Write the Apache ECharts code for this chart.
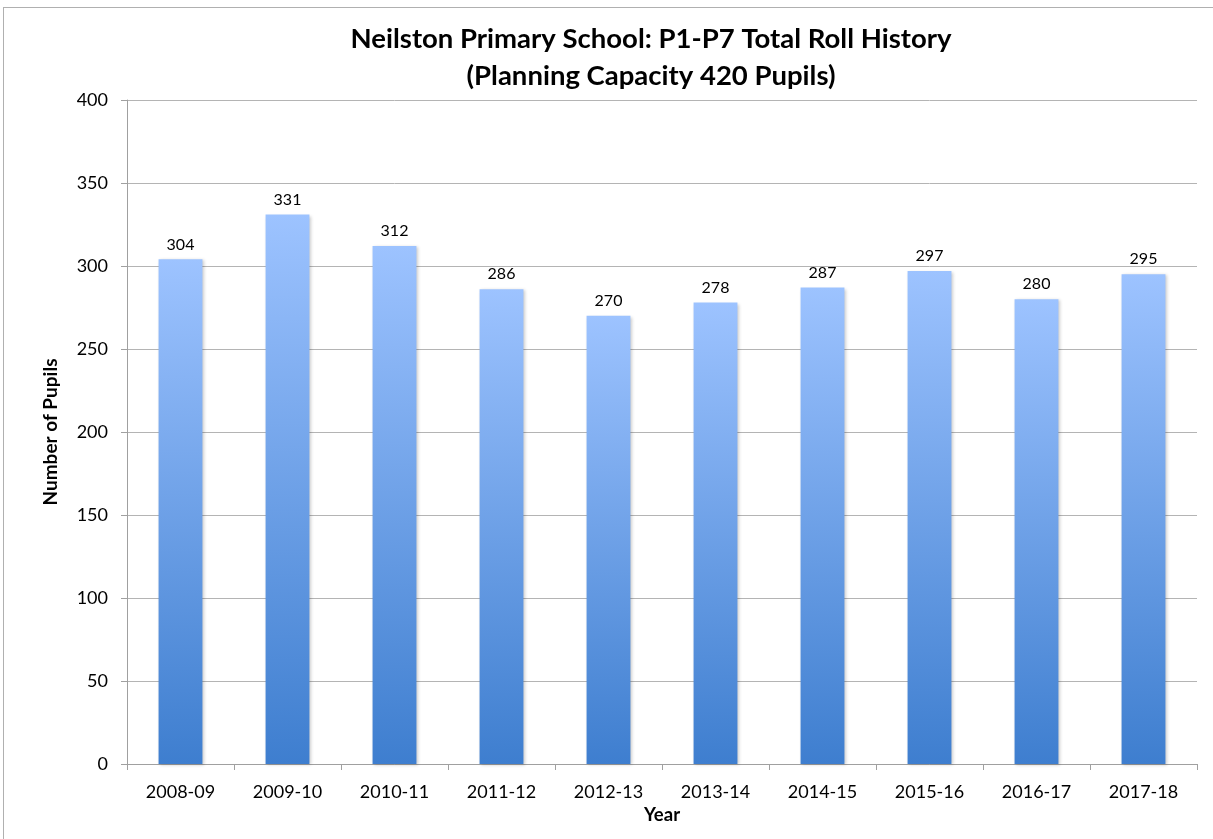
<!DOCTYPE html>
<html><head><meta charset="utf-8">
<script src="https://cdn.jsdelivr.net/npm/echarts@6/dist/echarts.min.js"></script>
<style>
html,body{margin:0;padding:0;background:#fff;}
#frame{position:absolute;left:3px;top:7px;width:1230px;height:850px;border:1px solid #b0b0b0;box-sizing:border-box;}
#c{position:absolute;left:0;top:0;width:1213px;height:839px;}
</style></head>
<body><div id="frame"></div><div id="c"></div>
<script>
const categories = ['2008-09','2009-10','2010-11','2011-12','2012-13','2013-14','2014-15','2015-16','2016-17','2017-18'];
const pupils = [304,331,312,286,270,278,287,297,280,295];
const yTicks = [0,50,100,150,200,250,300,350,400];

const chart = echarts.init(document.getElementById('c'), null, {renderer:'canvas'});
const font = 'Lato, "Open Sans", sans-serif';
chart.setOption({
  animation:false,
  title:{
    text:'Neilston Primary School: P1-P7 Total Roll History\n(Planning Capacity 420 Pupils)',
    left:646, top:16, textAlign:'center',
    textStyle:{fontFamily:font,fontWeight:'bold',fontSize:27.5,color:'#000',lineHeight:37}
  },
  grid:{left:127,right:16,top:100,bottom:75},
  xAxis:{
    type:'category', data:categories,
    name:'Year', nameLocation:'middle', nameGap:42,
    nameTextStyle:{fontFamily:font,fontWeight:'bold',fontSize:18.5,color:'#000'},
    axisLine:{lineStyle:{color:'#a0a0a0'}},
    axisTick:{show:true,length:6,lineStyle:{color:'#a0a0a0'}},
    axisLabel:{fontFamily:font,fontSize:18,color:'#000',margin:19}
  },
  yAxis:{
    type:'value', min:0, max:400, interval:50,
    name:'Number of Pupils', nameLocation:'middle', nameGap:67,
    nameTextStyle:{fontFamily:font,fontWeight:'bold',fontSize:19,color:'#000'},
    axisLine:{show:true,lineStyle:{color:'#a0a0a0'}},
    axisTick:{show:true,length:6,lineStyle:{color:'#a0a0a0'}},
    axisLabel:{fontFamily:font,fontSize:18,color:'#000',margin:19,
      formatter:v=>yTicks.includes(v)?String(v):''},
    splitLine:{lineStyle:{color:'#b4b4b4'}}
  },
  series:[{
    type:'bar', data:pupils, barWidth:'41%',
    itemStyle:{
      color:new echarts.graphic.LinearGradient(0,0,0,1,[
        {offset:0,color:'#9DC3FF'},{offset:1,color:'#3E7ECF'}]),
      shadowColor:'rgba(0,0,0,0.2)',shadowBlur:3,shadowOffsetX:1.5,shadowOffsetY:1
    },
    label:{show:true,position:'top',distance:7,fontFamily:font,fontSize:16,color:'#000'}
  }]
});
</script></body></html>
